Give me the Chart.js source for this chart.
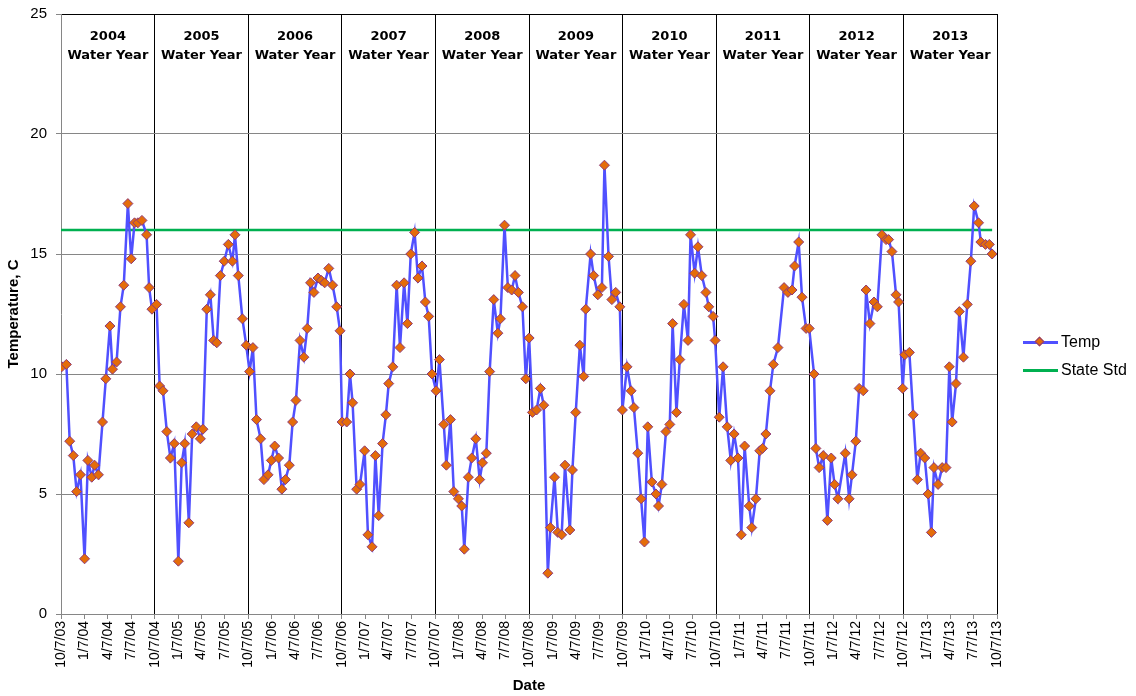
<!DOCTYPE html>
<html>
<head>
<meta charset="utf-8">
<script src="https://cdn.jsdelivr.net/npm/chart.js@4.4.1/dist/chart.umd.min.js"></script>
<style>
  html, body { margin: 0; padding: 0; background: #fff; }
  #wrap { position: relative; width: 1136px; height: 696px; }
  #legend { position: absolute; left: 1023px; top: 328px; font: 16px "Liberation Sans", Arial, sans-serif; color: #000; }
  .item { display: flex; align-items: center; height: 28px; }
  .swatch { position: relative; width: 35px; height: 3px; margin-right: 3px; }
  .dot { position: absolute; left: 13px; top: -3px; width: 7px; height: 7px; transform: rotate(45deg); box-sizing: border-box; }
</style>
</head>
<body>
<div id="wrap">
  <canvas id="chart" width="1136" height="696"></canvas>
  <div id="legend"></div>
</div>
<script>
// ── Data ──
const tickLabels = [
  "10/7/03", "1/7/04", "4/7/04", "7/7/04", "10/7/04", "1/7/05", "4/7/05", "7/7/05",
  "10/7/05", "1/7/06", "4/7/06", "7/7/06", "10/7/06", "1/7/07", "4/7/07", "7/7/07",
  "10/7/07", "1/7/08", "4/7/08", "7/7/08", "10/7/08", "1/7/09", "4/7/09", "7/7/09",
  "10/7/09", "1/7/10", "4/7/10", "7/7/10", "10/7/10", "1/7/11", "4/7/11", "7/7/11",
  "10/7/11", "1/7/12", "4/7/12", "7/7/12", "10/7/12", "1/7/13", "4/7/13", "7/7/13",
  "10/7/13"
];
const waterYears = ["2004", "2005", "2006", "2007", "2008", "2009", "2010", "2011", "2012", "2013"];
const yearCaption = "Water Year";

// days since 10/7/03 for each sample
const sampleDay = [
  3, 21, 34, 48, 61, 76, 92, 105, 120, 131, 146, 162, 175, 191, 201, 217, 232, 245, 261, 274, 287, 300, 316, 334, 344, 355, 373,
  385, 398, 413, 427, 442, 458, 471, 483, 499, 512, 528, 544, 554, 569, 583, 596, 608, 622, 637, 653, 669, 679, 692, 708, 723, 736, 749,
  763, 779, 792, 808, 821, 834, 849, 862, 876, 891, 904, 917, 933, 948, 961, 974, 987, 1003, 1016, 1029, 1045, 1060, 1076, 1089, 1097, 1115,
  1128, 1138, 1154, 1167, 1185, 1198, 1214, 1227, 1240, 1255, 1268, 1279, 1295, 1310, 1323, 1339, 1352, 1365, 1380, 1393, 1409, 1422, 1435, 1448, 1464, 1477,
  1494, 1504, 1520, 1533, 1551, 1564, 1574, 1590, 1603, 1619, 1634, 1645, 1660, 1673, 1689, 1705, 1715, 1731, 1744, 1759, 1772, 1785, 1801, 1814, 1827, 1840,
  1856, 1871, 1884, 1900, 1910, 1926, 1939, 1954, 1967, 1986, 1996, 2009, 2025, 2040, 2048, 2067, 2079, 2095, 2111, 2121, 2137, 2150, 2165, 2181, 2191, 2209,
  2225, 2236, 2251, 2264, 2277, 2290, 2306, 2322, 2332, 2345, 2361, 2376, 2387, 2402, 2415, 2431, 2447, 2457, 2473, 2486, 2501, 2517, 2528, 2545, 2553, 2569, 2584,
  2600, 2614, 2627, 2642, 2655, 2668, 2686, 2696, 2712, 2727, 2738, 2751, 2767, 2780, 2798, 2822, 2837, 2853, 2863, 2879, 2892, 2908, 2920, 2939,
  2946, 2959, 2975, 2991, 3006, 3019, 3032, 3061, 3076, 3087, 3102, 3115, 3131, 3142, 3157, 3173, 3186, 3204, 3220, 3230, 3243, 3259, 3269, 3285, 3293, 3311,
  3326, 3342, 3355, 3371, 3384, 3397, 3407, 3423, 3439, 3454, 3467, 3478, 3493, 3506, 3522, 3537, 3551, 3564, 3581, 3590, 3608, 3623, 3634
];
const temp = [
  10.3, 10.4, 7.2, 6.6, 5.1, 5.8, 2.3, 6.4, 5.7, 6.2, 5.8, 8.0, 9.8, 12.0, 10.2, 10.5, 12.8, 13.7, 17.1, 14.8, 16.3, 16.3, 16.4, 15.8, 13.6, 12.7, 12.9,
  9.5, 9.3, 7.6, 6.5, 7.1, 2.2, 6.3, 7.1, 3.8, 7.5, 7.8, 7.3, 7.7, 12.7, 13.3, 11.4, 11.3, 14.1, 14.7, 15.4, 14.7, 15.8, 14.1, 12.3, 11.2, 10.1, 11.1,
  8.1, 7.3, 5.6, 5.8, 6.4, 7.0, 6.5, 5.2, 5.6, 6.2, 8.0, 8.9, 11.4, 10.7, 11.9, 13.8, 13.4, 14.0, 13.9, 13.8, 14.4, 13.7, 12.8, 11.8, 8.0, 8.0,
  10.0, 8.8, 5.2, 5.4, 6.8, 3.3, 2.8, 6.6, 4.1, 7.1, 8.3, 9.6, 10.3, 13.7, 11.1, 13.8, 12.1, 15.0, 15.9, 14.0, 14.5, 13.0, 12.4, 10.0, 9.3, 10.6,
  7.9, 6.2, 8.1, 5.1, 4.8, 4.5, 2.7, 5.7, 6.5, 7.3, 5.6, 6.3, 6.7, 10.1, 13.1, 11.7, 12.3, 16.2, 13.6, 13.5, 14.1, 13.4, 12.8, 9.8, 11.5, 8.4,
  8.5, 9.4, 8.7, 1.7, 3.6, 5.7, 3.4, 3.3, 6.2, 3.5, 6.0, 8.4, 11.2, 9.9, 12.7, 15.0, 14.1, 13.3, 13.6, 18.7, 14.9, 13.1, 13.4, 12.8, 8.5, 10.3,
  9.3, 8.6, 6.7, 4.8, 3.0, 7.8, 5.5, 5.0, 4.5, 5.4, 7.6, 7.9, 12.1, 8.4, 10.6, 12.9, 11.4, 15.8, 14.2, 15.3, 14.1, 13.4, 12.8, 12.4, 11.4, 8.2, 10.3,
  7.8, 6.4, 7.5, 6.5, 3.3, 7.0, 4.5, 3.6, 4.8, 6.8, 6.9, 7.5, 9.3, 10.4, 11.1, 13.6, 13.4, 13.5, 14.5, 15.5, 13.2, 11.9, 11.9, 10.0,
  6.9, 6.1, 6.6, 3.9, 6.5, 5.4, 4.8, 6.7, 4.8, 5.8, 7.2, 9.4, 9.3, 13.5, 12.1, 13.0, 12.8, 15.8, 15.6, 15.6, 15.1, 13.3, 13.0, 9.4, 10.8, 10.9,
  8.3, 5.6, 6.7, 6.5, 5.0, 3.4, 6.1, 5.4, 6.1, 6.1, 10.3, 8.0, 9.6, 12.6, 10.7, 12.9, 14.7, 17.0, 16.3, 15.5, 15.4, 15.4, 15.0
];
const stateStd = 16;

// ── helpers ──
const START = Date.UTC(2003, 9, 7);
function dayOf(label) {
  const [m, d, y] = label.split("/").map(Number);
  return (Date.UTC(2000 + y, m - 1, d) - START) / 86400000;
}
const tickDays = tickLabels.map(dayOf);
const isYearTick = (i) => tickLabels[i] && tickLabels[i].startsWith("10/");

const axisGray = "#868686";
const FONT = '"Liberation Sans", Arial, sans-serif';

// water year captions across the top of each section
const waterYearLabels = {
  id: "waterYearLabels",
  afterDatasetsDraw(chart) {
    const { ctx, chartArea, scales: { x } } = chart;
    const bounds = tickDays.filter((d, i) => isYearTick(i));
    ctx.save();
    ctx.font = 'bold 13px "DejaVu Sans"';
    ctx.fillStyle = "#000";
    ctx.textAlign = "center";
    ctx.textBaseline = "middle";
    waterYears.forEach((yr, i) => {
      const cx = (x.getPixelForValue(bounds[i]) + x.getPixelForValue(bounds[i + 1])) / 2;
      ctx.fillText(yr, cx, chartArea.top + 23);
      ctx.fillText(yearCaption, cx, chartArea.top + 42);
    });
    ctx.restore();
  },
};

const chart = new Chart(document.getElementById("chart"), {
  type: "line",
  data: {
    datasets: [
      {
        label: "Temp",
        data: sampleDay.map((d, i) => ({ x: d, y: temp[i] })),
        borderColor: "#5050ff",
        borderWidth: 2.5,
        pointStyle: "rectRot",
        pointRadius: 5,
        pointBackgroundColor: "#e46c0a",
        pointBorderColor: "#8e3a78",
        pointBorderWidth: 1,
        tension: 0,
      },
      {
        label: "State Std",
        data: [{ x: 0, y: stateStd }, { x: sampleDay[sampleDay.length - 1], y: stateStd }],
        borderColor: "#00b050",
        borderWidth: 2.5,
        pointRadius: 0,
      },
    ],
  },
  options: {
    responsive: false,
    animation: false,
    layout: { padding: { top: 14, right: 139, left: 2, bottom: 0 } },
    plugins: {
      legend: { display: false },
      tooltip: { enabled: false },
    },
    scales: {
      x: {
        type: "linear",
        min: tickDays[0],
        max: tickDays[tickDays.length - 1],
        afterBuildTicks: (scale) => { scale.ticks = tickDays.map((v) => ({ value: v })); },
        afterFit: (scale) => {
          scale.height = 82;
          scale.paddingLeft = 0;
          scale.paddingRight = 0;
        },
        ticks: {
          autoSkip: false,
          maxRotation: 90,
          minRotation: 90,
          padding: 2,
          color: "#000",
          font: { family: FONT, size: 14 },
          callback: (v, i) => tickLabels[i],
        },
        grid: {
          color: (ctx) => (ctx.index > 0 && isYearTick(ctx.index) ? "#000" : "transparent"),
          tickColor: axisGray,
          tickLength: 5,
        },
        border: { color: axisGray },
        title: {
          display: true,
          text: "Date",
          color: "#000",
          font: { family: FONT, size: 15, weight: "bold" },
          padding: { top: 0, bottom: 1 },
        },
      },
      y: {
        min: 0,
        max: 25,
        afterFit: (scale) => {
          scale.width = 59;
          scale.paddingTop = 0;
          scale.paddingBottom = 0;
        },
        ticks: {
          stepSize: 5,
          padding: 9,
          color: "#000",
          font: { family: FONT, size: 15 },
        },
        grid: {
          color: (ctx) => (ctx.tick && ctx.tick.value === 25 ? "#000" : axisGray),
          tickColor: axisGray,
          tickLength: 5,
        },
        border: { color: axisGray },
        title: {
          display: true,
          text: "Temperature, C",
          color: "#000",
          font: { family: FONT, size: 15, weight: "bold" },
          padding: { top: 3, bottom: 0 },
        },
      },
    },
  },
  plugins: [waterYearLabels],
});

// ── HTML legend: line with marker, like the spreadsheet original ──
const legendEl = document.getElementById("legend");
chart.data.datasets.forEach((ds) => {
  const item = document.createElement("div");
  item.className = "item";
  const sw = document.createElement("span");
  sw.className = "swatch";
  sw.style.background = ds.borderColor;
  if (ds.pointRadius > 0) {
    const dot = document.createElement("span");
    dot.className = "dot";
    dot.style.background = ds.pointBackgroundColor;
    dot.style.border = "1px solid " + ds.pointBorderColor;
    sw.appendChild(dot);
  }
  const txt = document.createElement("span");
  txt.textContent = ds.label;
  item.appendChild(sw);
  item.appendChild(txt);
  legendEl.appendChild(item);
});
</script>
</body>
</html>
